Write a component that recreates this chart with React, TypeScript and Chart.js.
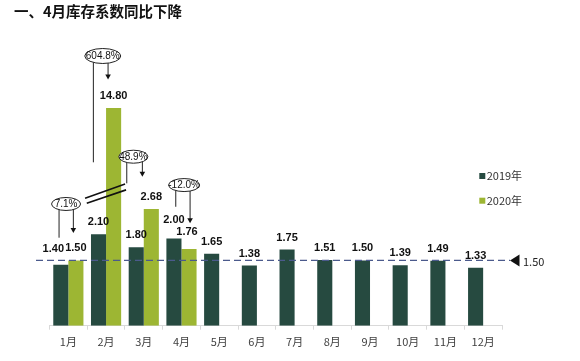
import { useEffect, useRef } from 'react';
import { Chart, registerables } from 'chart.js';

Chart.register(...registerables);

// ---------- data ----------
const months = ['1月', '2月', '3月', '4月', '5月', '6月', '7月', '8月', '9月', '10月', '11月', '12月'];
const seriesNames = ['2019年', '2020年'];
const values2019 = [1.4, 2.1, 1.8, 2.0, 1.65, 1.38, 1.75, 1.51, 1.5, 1.39, 1.49, 1.33];
const values2020: (number | null)[] = [1.5, 14.8, 2.68, 1.76, null, null, null, null, null, null, null, null];
const benchmarkValue = 1.5;
const axisBreakValue = 3.0; // broken-axis mark drawn on the 2月 2020 bar
const yAxisMax = 5.0; // bars above this are cut (broken axis)
const titleText = '一、4月库存系数同比下降';

// ---------- styles ----------
const COLOR_2019 = '#264a40';
const COLOR_2020 = '#9db633';
const NUM_FONT = '"Liberation Sans", Arial, sans-serif';
const CJK_FONT = '"Noto Sans CJK SC", "Noto Sans", sans-serif';

// label nudges (dataset-index) in px
const labelNudge: Record<string, [number, number]> = {
  '0-0': [-7.5, -3.7],
  '0-3': [0, -7],
  '1-3': [-2, -4.7],
};

// callout layout per month (relative to category centre x, and 2020 label centre y)
const calloutLayout = [
  { m: 0, ex: -2.3, ey: -44.4, w: 29, h: 13, lx: -9.3, lEnd: -10.7, rx: 5, tip: -15.4 },
  { m: 1, ex: -3.3, ey: -40, w: 36, h: 15, lx: -12.7, lEnd: 66.3, rx: 2, tip: -16.4 },
  { m: 2, ex: -10.4, ey: -40.3, w: 29, h: 13, lx: -17, lEnd: -13.7, rx: -1.4, tip: -20.3 },
  { m: 3, ex: 2.6, ey: -47.3, w: 31, h: 13, lx: -5.7, lEnd: -25.6, rx: 8.6, tip: -9 },
];

function labelPos(chart: any, di: number, i: number) {
  const meta = chart.getDatasetMeta(di);
  const el = meta.data[i];
  const top = Math.max(el.y, chart.chartArea.top);
  const n = labelNudge[`${di}-${i}`] || [0, 0];
  return { x: el.x + n[0], y: top - 12 + n[1] };
}

const decorPlugin = {
  id: 'decor',
  afterDatasetsDraw(chart: any) {
    const ctx = chart.ctx as CanvasRenderingContext2D;
    const xs = chart.scales.x;
    const ys = chart.scales.y;
    ctx.save();

    // title
    ctx.fillStyle = '#111';
    ctx.font = `bold 14.5px ${CJK_FONT}`;
    ctx.textAlign = 'left';
    ctx.textBaseline = 'middle';
    ctx.fillText(titleText, 14, 11);

    // legend
    ctx.font = `11px ${CJK_FONT}`;
    chart.data.datasets.forEach((ds: any, di: number) => {
      const cy = 176 + di * 24.7;
      ctx.fillStyle = ds.backgroundColor;
      ctx.fillRect(479.3, cy - 3, 6, 6);
      ctx.fillStyle = '#333';
      ctx.fillText(ds.label, 486.7, cy);
    });

    // break mark on 2月 2020 bar
    const bx = xs.getPixelForValue(1);
    const by = ys.getPixelForValue(axisBreakValue);
    ctx.strokeStyle = '#111';
    ctx.lineWidth = 1.6;
    ctx.beginPath();
    ctx.moveTo(bx - 21, by + 3.1);
    ctx.lineTo(bx + 19, by - 11.2);
    ctx.moveTo(bx - 19.3, by + 8.1);
    ctx.lineTo(bx + 20, by - 5.2);
    ctx.stroke();

    // benchmark dashed line
    const ly = ys.getPixelForValue(benchmarkValue);
    ctx.strokeStyle = '#4b5a8c';
    ctx.lineWidth = 1.3;
    ctx.setLineDash([7, 4]);
    ctx.beginPath();
    ctx.moveTo(36, ly);
    ctx.lineTo(510, ly);
    ctx.stroke();
    ctx.setLineDash([]);
    ctx.fillStyle = '#111';
    ctx.beginPath();
    ctx.moveTo(510, ly);
    ctx.lineTo(519.5, ly - 6);
    ctx.lineTo(519.5, ly + 6);
    ctx.closePath();
    ctx.fill();
    ctx.font = `11px ${CJK_FONT}`;
    ctx.fillStyle = '#222';
    ctx.textAlign = 'left';
    ctx.fillText(benchmarkValue.toFixed(2), 523, ly + 1);

    // value labels
    ctx.font = `bold 11px ${NUM_FONT}`;
    ctx.textAlign = 'center';
    ctx.fillStyle = '#111';
    chart.data.datasets.forEach((ds: any, di: number) => {
      ds.data.forEach((v: number | null, i: number) => {
        if (v == null) return;
        const p = labelPos(chart, di, i);
        ctx.fillText(v.toFixed(2), p.x, p.y);
      });
    });

    // callouts (year-on-year change)
    calloutLayout.forEach((c) => {
      const v19 = values2019[c.m];
      const v20 = values2020[c.m] as number;
      const pct = ((v20 / v19 - 1) * 100).toFixed(1) + '%';
      const cx = xs.getPixelForValue(c.m);
      const l20 = labelPos(chart, 1, c.m);
      const ex = cx + c.ex;
      const ey = l20.y + c.ey;
      const a = c.w / 2;
      const b = c.h / 2;
      const bottomAt = (x: number) => ey + b * Math.sqrt(Math.max(0, 1 - ((x - ex) / a) ** 2));

      ctx.strokeStyle = '#222';
      ctx.lineWidth = 1;
      ctx.fillStyle = '#fff';
      ctx.beginPath();
      ctx.ellipse(ex, ey, a, b, 0, 0, Math.PI * 2);
      ctx.fill();
      ctx.stroke();

      ctx.fillStyle = '#111';
      ctx.font = `10px ${NUM_FONT}`;
      ctx.textAlign = 'center';
      ctx.fillText(pct, ex, ey + 0.5);

      // left line
      const lx = cx + c.lx;
      ctx.beginPath();
      ctx.moveTo(lx, bottomAt(lx));
      ctx.lineTo(lx, l20.y + c.lEnd);
      ctx.stroke();

      // right arrow
      const rx = cx + c.rx;
      const tipY = l20.y + c.tip;
      ctx.beginPath();
      ctx.moveTo(rx, bottomAt(rx));
      ctx.lineTo(rx, tipY - 4);
      ctx.stroke();
      ctx.beginPath();
      ctx.moveTo(rx, tipY);
      ctx.lineTo(rx - 2.8, tipY - 5);
      ctx.lineTo(rx + 2.8, tipY - 5);
      ctx.closePath();
      ctx.fill();
    });

    ctx.restore();
  },
};

export default function App() {
  const ref = useRef<HTMLCanvasElement | null>(null);
  useEffect(() => {
    if (!ref.current) return;
    const chart = new Chart(ref.current, {
      type: 'bar',
      data: {
        labels: months,
        datasets: [
          { label: seriesNames[0], data: values2019, backgroundColor: COLOR_2019 },
          { label: seriesNames[1], data: values2020, backgroundColor: COLOR_2020 },
        ],
      },
      options: {
        animation: false,
        responsive: false,
        layout: { padding: { left: 49.5, right: 78, top: 108, bottom: 11.3 } },
        datasets: { bar: { categoryPercentage: 0.8, barPercentage: 1.0 } },
        plugins: { legend: { display: false }, tooltip: { enabled: false }, title: { display: false } },
        scales: {
          x: {
            grid: { drawOnChartArea: false, drawTicks: true, tickLength: 4, color: '#d9d9d9', offset: true },
            border: { display: true, color: '#d9d9d9' },
            ticks: { color: '#404040', font: { family: CJK_FONT, size: 11 }, padding: 6, maxRotation: 0 },
            afterFit: (s: any) => {
              s.height = 24;
            },
          },
          y: { display: false, min: 0, max: yAxisMax },
        },
      } as any,
      plugins: [decorPlugin],
    });
    return () => chart.destroy();
  }, []);
  return (
    <div style={{ position: 'fixed', left: 0, top: 0, width: 580, height: 361, background: '#fff' }}>
      <canvas ref={ref} width={580} height={361} style={{ display: 'block' }} />
    </div>
  );
}
